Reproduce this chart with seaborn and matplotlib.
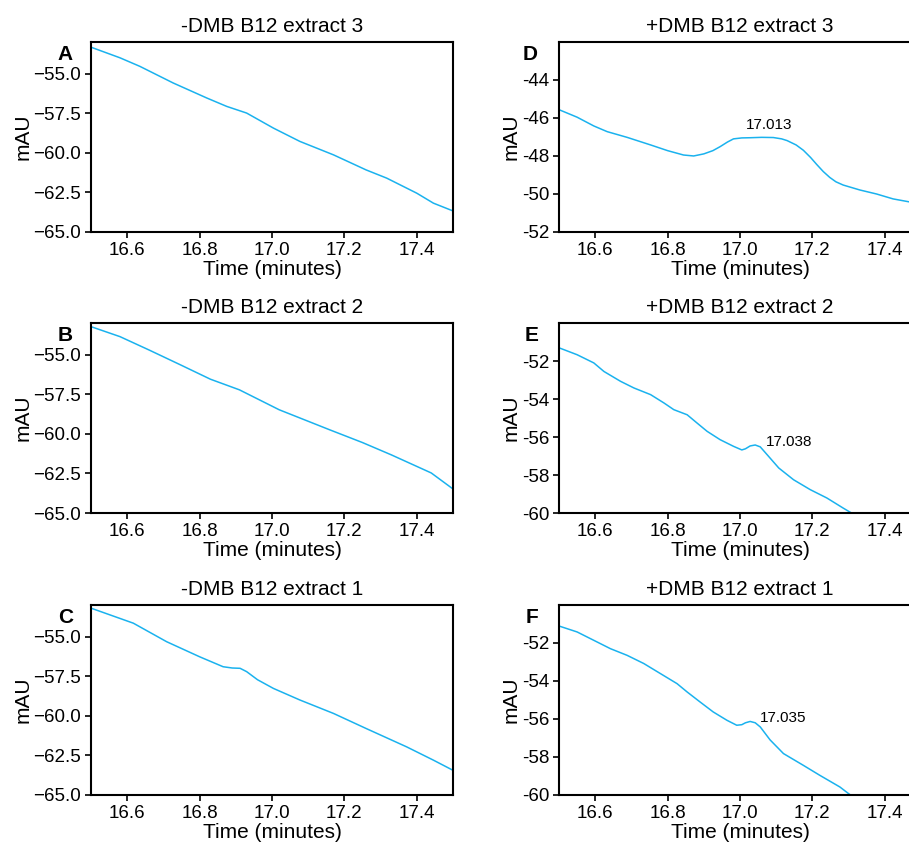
import pandas as pd
import matplotlib
matplotlib.use("Agg")
import matplotlib.pyplot as plt
import matplotlib.ticker as mticker
import seaborn as sns

# -DMB B12 extracts (left column)
t_a = [16.50, 16.58, 16.635, 16.727, 16.82, 16.875, 16.93, 17.004, 17.077, 17.17, 17.26, 17.317, 17.40, 17.446, 17.50]
y_a = [-53.33, -54.00, -54.54, -55.59, -56.54, -57.07, -57.49, -58.44, -59.28, -60.13, -61.08, -61.60, -62.55, -63.18, -63.67]

t_b = [16.50, 16.58, 16.66, 16.746, 16.83, 16.91, 17.02, 17.16, 17.25, 17.33, 17.44, 17.50]
y_b = [-53.23, -53.86, -54.70, -55.63, -56.55, -57.22, -58.48, -59.75, -60.55, -61.33, -62.47, -63.48]

t_c = [16.50, 16.617, 16.709, 16.80, 16.865, 16.89, 16.912, 16.93, 16.96, 17.004, 17.077, 17.17, 17.26, 17.372, 17.446, 17.50]
y_c = [-53.20, -54.15, -55.32, -56.27, -56.90, -56.98, -57.00, -57.21, -57.72, -58.27, -59.00, -59.85, -60.80, -61.96, -62.80, -63.44]

# +DMB B12 extracts (right column)
t_d = [16.502, 16.55, 16.596, 16.633, 16.688, 16.753, 16.80, 16.844, 16.872, 16.90, 16.925, 16.945, 16.965, 16.982,
       17.005, 17.028, 17.06, 17.092, 17.115, 17.13, 17.155, 17.175, 17.195, 17.212, 17.23, 17.248, 17.265,
       17.285, 17.331, 17.377, 17.423, 17.466, 17.50]
y_d = [-45.58, -45.96, -46.42, -46.72, -47.02, -47.42, -47.72, -47.95, -48.00, -47.89, -47.72, -47.51, -47.27, -47.10,
       -47.05, -47.04, -47.02, -47.03, -47.10, -47.19, -47.42, -47.70, -48.08, -48.45, -48.82, -49.13, -49.36,
       -49.53, -49.79, -50.00, -50.26, -50.41, -50.52]

t_e = [16.502, 16.55, 16.596, 16.624, 16.67, 16.707, 16.753, 16.79, 16.817, 16.854, 16.881, 16.909, 16.945,
       16.982, 17.005, 17.015, 17.028, 17.042, 17.056, 17.079, 17.107, 17.148, 17.194, 17.24, 17.285, 17.308, 17.35, 17.50]
y_e = [-51.32, -51.67, -52.10, -52.55, -53.07, -53.42, -53.77, -54.21, -54.56, -54.83, -55.26, -55.70, -56.14,
       -56.49, -56.68, -56.62, -56.47, -56.42, -56.52, -57.02, -57.63, -58.25, -58.77, -59.21, -59.74, -60.00, -60.50, -62.30]

t_f = [16.502, 16.55, 16.596, 16.642, 16.688, 16.734, 16.78, 16.826, 16.854, 16.89, 16.926, 16.964, 16.991,
       17.005, 17.015, 17.028, 17.042, 17.056, 17.083, 17.12, 17.175, 17.22, 17.276, 17.30, 17.35, 17.50]
y_f = [-51.12, -51.42, -51.86, -52.30, -52.65, -53.08, -53.61, -54.14, -54.58, -55.11, -55.63, -56.07, -56.33,
       -56.30, -56.20, -56.13, -56.20, -56.42, -57.10, -57.82, -58.44, -58.96, -59.58, -59.93, -60.60, -62.40]

titles = ["-DMB B12 extract 3", "-DMB B12 extract 2", "-DMB B12 extract 1",
          "+DMB B12 extract 3", "+DMB B12 extract 2", "+DMB B12 extract 1"]
letters = ["A", "B", "C", "D", "E", "F"]
peak_labels = [None, None, None, "17.013", "17.038", "17.035"]

sns.set_style("ticks")
plt.rcParams["font.family"] = ["Liberation Sans", "DejaVu Sans"]
plt.rcParams.update({
    "axes.linewidth": 1.5,
    "axes.edgecolor": "black",
    "text.color": "black",
    "axes.labelcolor": "black",
    "xtick.color": "black",
    "ytick.color": "black",
})

fig = plt.figure(figsize=(9.09, 8.46), dpi=100)

line_color = "#1ab2ee"
series = [(t_a, y_a), (t_b, y_b), (t_c, y_c), (t_d, y_d), (t_e, y_e), (t_f, y_f)]
lefts = [0.1001, 0.615]
bottoms = [0.7258, 0.3936, 0.0603]
w, h = 0.3982, 0.2246

for i, (t, y) in enumerate(series):
    col, row = divmod(i, 3)
    ax = fig.add_axes([lefts[col], bottoms[row], w, h])
    df = pd.DataFrame({"Time (minutes)": t, "mAU": y})
    sns.lineplot(data=df, x="Time (minutes)", y="mAU", ax=ax, color=line_color, linewidth=1.1)
    ax.set_xlim(16.5, 17.5)
    ax.xaxis.set_major_locator(mticker.FixedLocator([16.6, 16.8, 17.0, 17.2, 17.4]))
    if col == 0:
        ax.set_ylim(-65, -53)
        ax.yaxis.set_major_locator(mticker.MultipleLocator(2.5))
    else:
        if row == 0:
            ax.set_ylim(-52, -42)
            ax.yaxis.set_major_locator(mticker.FixedLocator([-52, -50, -48, -46, -44]))
        else:
            ax.set_ylim(-60, -50)
            ax.yaxis.set_major_locator(mticker.FixedLocator([-60, -58, -56, -54, -52]))
        ax.yaxis.set_major_formatter(mticker.FuncFormatter(lambda v, p: "%d" % round(v)))
    ax.tick_params(labelsize=13.5, length=4, width=1.2, pad=3)
    ax.set_xlabel("Time (minutes)", fontsize=15, labelpad=1)
    ax.set_ylabel("mAU", fontsize=15, labelpad=1)
    ax.set_title(titles[i], fontsize=15, pad=7)
    ax.text(-0.05 if col == 0 else -0.058, 0.985, letters[i], transform=ax.transAxes,
            ha="right", va="top", fontsize=15, fontweight="bold")

    # peak retention time labels
    if i == 3:
        ax.text(17.08, -46.75, peak_labels[i], ha="center", va="bottom", fontsize=11)
    elif i == 4:
        ax.text(17.072, -56.26, peak_labels[i], ha="left", va="center", fontsize=11)
    elif i == 5:
        ax.text(17.054, -55.93, peak_labels[i], ha="left", va="center", fontsize=11)

plt.savefig("out.png", dpi=100)
